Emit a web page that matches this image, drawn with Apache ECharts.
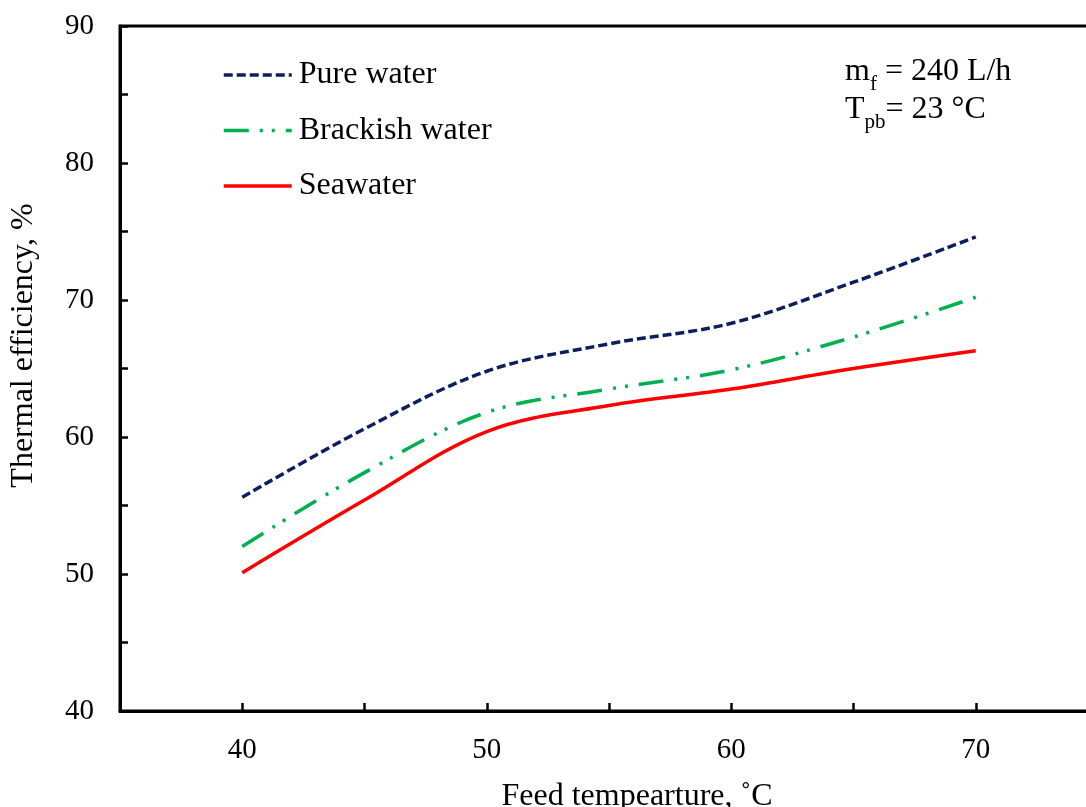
<!DOCTYPE html>
<html>
<head>
<meta charset="utf-8">
<script src="https://cdn.jsdelivr.net/npm/echarts@6/dist/echarts.min.js"></script>
<style>html,body{margin:0;padding:0;background:#fff;overflow:hidden}#c{width:1100px;height:807px}</style>
</head>
<body>
<div id="c"></div>
<script>
const feedTemp = [40, 45, 50, 55, 60, 65, 70];
const pureWater = [55.6, 60.6, 64.8, 66.8, 68.3, 71.3, 74.6];
const brackishWater = [52.0, 57.4, 61.8, 63.5, 64.9, 67.3, 70.2];
const seawater = [50.1, 55.4, 60.4, 62.3, 63.5, 65.0, 66.3];
const seriesNames = ['Pure water', 'Brackish water', 'Seawater'];
const xTickLabels = [40, 50, 60, 70];
const yTickLabels = [40, 50, 60, 70, 80, 90];

const FONT = 'Liberation Serif';
const pair = (ys) => feedTemp.map((x, i) => [x, ys[i]]);
const sub = {fontFamily: FONT, fontSize: 21, lineHeight: 24, fill: '#000', verticalAlign: 'bottom', padding: [0, 0, -7, 0]};
const main = {fontFamily: FONT, fontSize: 32, lineHeight: 36, fill: '#000', verticalAlign: 'bottom'};

const chart = echarts.init(document.getElementById('c'), null, {renderer: 'canvas'});
chart.setOption({
  backgroundColor: '#fff',
  animation: false,
  grid: {left: 120, right: 2, top: 26, bottom: 96, containLabel: false, outerBoundsMode: 'none',
    show: true, borderColor: '#000', borderWidth: 3, backgroundColor: 'transparent'},
  legend: {
    left: 222, top: 59, orient: 'vertical', padding: 0, itemWidth: 68, itemHeight: 20, itemGap: 23.5,
    data: seriesNames,
    itemStyle: {opacity: 0, color: 'transparent', borderWidth: 0},
    lineStyle: {width: 3.5},
    textStyle: {fontFamily: FONT, fontSize: 32, lineHeight: 32, color: '#000', padding: [0, 0, 0, 2]}
  },
  xAxis: {
    type: 'value', min: 35, max: 75, interval: 5,
    name: 'Feed tempearture, ˚C', nameLocation: 'middle', nameGap: 70,
    nameTextStyle: {fontFamily: FONT, fontSize: 32, color: '#000', padding: [0, 0, 0, 56]},
    axisLine: {lineStyle: {color: '#000', width: 3}},
    axisTick: {inside: true, length: 8, lineStyle: {color: '#000', width: 2.5}},
    axisLabel: {fontFamily: FONT, fontSize: 29, color: '#000', margin: 25,
      formatter: v => xTickLabels.includes(v) ? String(v) : ''},
    splitLine: {show: false}
  },
  yAxis: {
    type: 'value', min: 40, max: 90, interval: 5,
    name: 'Thermal efficiency, %', nameLocation: 'middle', nameGap: 80,
    nameTextStyle: {fontFamily: FONT, fontSize: 32, color: '#000', padding: [0, 0, 0, 46]},
    axisLine: {lineStyle: {color: '#000', width: 3}},
    axisTick: {inside: true, length: 8, lineStyle: {color: '#000', width: 2.5}},
    axisLabel: {fontFamily: FONT, fontSize: 29, color: '#000', margin: 26,
      formatter: v => yTickLabels.includes(v) ? String(v) : ''},
    splitLine: {show: false}
  },
  series: [
    {name: seriesNames[0], type: 'line', data: pair(pureWater), smooth: 0.35, showSymbol: false, symbol: 'none',
      lineStyle: {color: '#0B1F5E', width: 3.5, type: [9, 4]}, itemStyle: {color: '#0B1F5E'}},
    {name: seriesNames[1], type: 'line', data: pair(brackishWater), smooth: 0.35, showSymbol: false, symbol: 'none',
      lineStyle: {color: '#00B050', width: 3.5, type: [25, 11, 3, 9, 3, 11]}, itemStyle: {color: '#00B050'}},
    {name: seriesNames[2], type: 'line', data: pair(seawater), smooth: 0.35, showSymbol: false, symbol: 'none',
      lineStyle: {color: '#FF0000', width: 3.5}, itemStyle: {color: '#FF0000'}}
  ],
  graphic: [
    {type: 'text', left: 845, top: 56, style: {text: '{a|m}{s|f}{a| = 240 L/h}', rich: {a: main, s: sub}}},
    {type: 'text', left: 845, top: 94, style: {text: '{a|T}{s|pb}{a|= 23 °C}', rich: {a: main, s: sub}}}
  ]
});
</script>
</body>
</html>
